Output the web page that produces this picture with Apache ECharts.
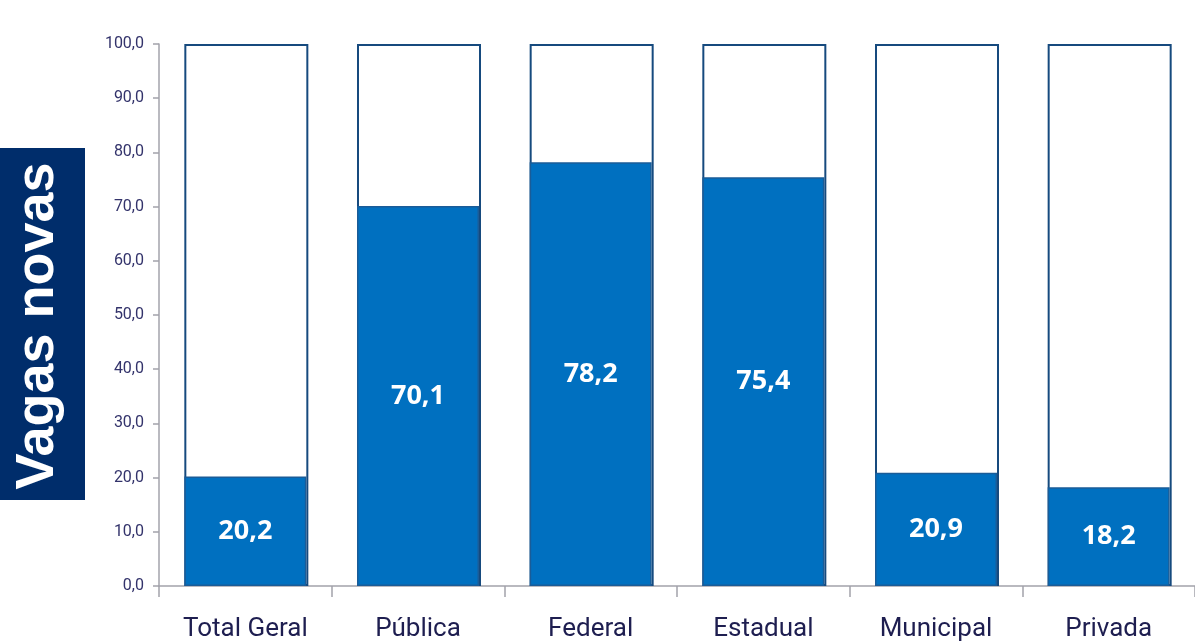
<!DOCTYPE html>
<html><head><meta charset="utf-8">
<script src="https://cdn.jsdelivr.net/npm/echarts@6/dist/echarts.min.js"></script>
<style>html,body{margin:0;padding:0;background:#fff}#c{width:1195px;height:643px}</style>
</head><body><div id="c"></div>
<script>
const categories = ['Total Geral', 'Pública', 'Federal', 'Estadual', 'Municipal', 'Privada'];
const values = [20.2, 70.1, 78.2, 75.4, 20.9, 18.2];
const totals = [100, 100, 100, 100, 100, 100];
const yTitle = 'Vagas novas';

const chart = echarts.init(document.getElementById('c'));
const fmt = v => v.toFixed(1).replace('.', ',');
chart.setOption({
  animation: false,
  grid: { left: 159, top: 44, width: 1041, height: 542 },
  xAxis: {
    type: 'category', data: categories,
    axisLine: { lineStyle: { color: '#A3A3AB', width: 1.5 } },
    axisTick: { show: true, interval: 0, length: 11, lineStyle: { color: '#A3A3AB', width: 1.5 } },
    axisLabel: { interval: 0, hideOverlap: false, color: '#1E1E50', fontSize: 26, fontFamily: 'Roboto, sans-serif', margin: 30 }
  },
  yAxis: {
    type: 'value', min: 0, max: 100, interval: 10,
    splitLine: { show: false },
    axisLine: { show: true, lineStyle: { color: '#A3A3AB', width: 1.5 } },
    axisTick: { show: true, length: 6, lineStyle: { color: '#A3A3AB', width: 1.5 } },
    axisLabel: { color: '#33336B', fontSize: 16, fontFamily: 'Roboto, sans-serif', margin: 15, formatter: v => fmt(v) }
  },
  series: [
    {
      type: 'bar', data: totals, barWidth: 124, silent: true,
      itemStyle: { color: '#FFFFFF', borderColor: '#164A7E', borderWidth: 2 }
    },
    {
      type: 'bar', data: values, barWidth: 122, barGap: '-100%',
      itemStyle: { color: '#0070C0', borderColor: '#1A5C98', borderWidth: 1.5 },
      label: {
        show: true, position: 'inside', color: '#FFFFFF', fontSize: 27, fontWeight: 'bold',
        fontFamily: 'Open Sans, sans-serif', formatter: p => fmt(p.value)
      }
    }
  ],
  graphic: [
    { type: 'rect', left: 0, top: 148, shape: { width: 85, height: 352 }, style: { fill: '#002D6B' } },
    { type: 'text', x: 38, y: 326, rotation: Math.PI / 2,
      style: { text: yTitle, fill: '#FFFFFF', font: 'bold 54px Liberation Sans, Arial, sans-serif', align: 'center', verticalAlign: 'middle' } }
  ]
});
</script></body></html>
